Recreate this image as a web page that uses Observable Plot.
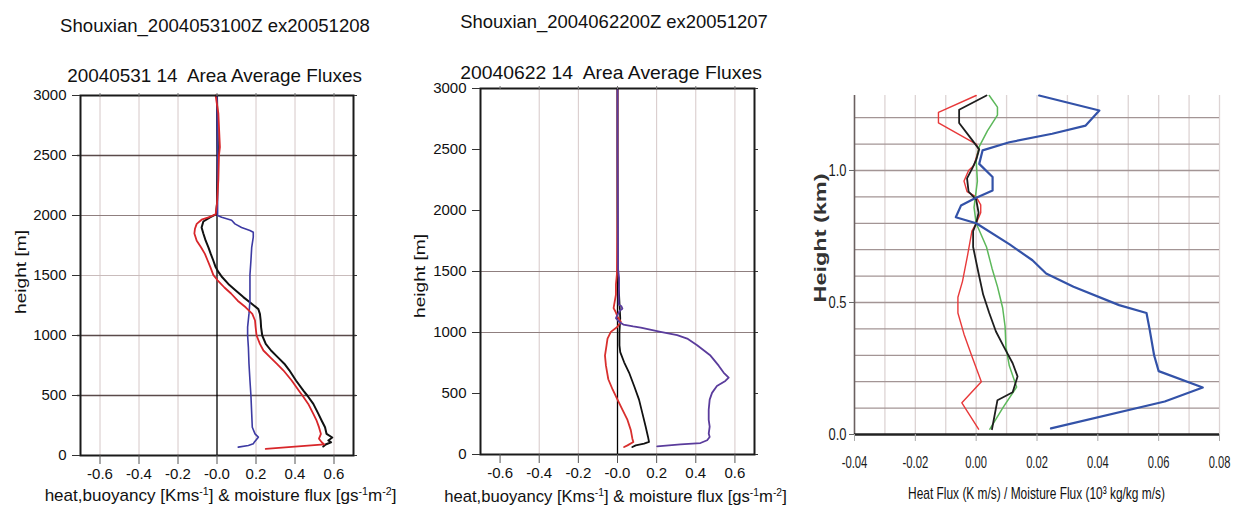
<!DOCTYPE html>
<html>
<head>
<meta charset="utf-8">
<script src="https://cdn.jsdelivr.net/npm/d3@7"></script>
<script src="https://cdn.jsdelivr.net/npm/@observablehq/plot@0.6"></script>
<style>
  html, body { margin: 0; padding: 0; background: #fff; }
  #wrap { position: relative; width: 1233px; height: 506px; overflow: hidden; background: #fff; }
  #wrap svg { position: absolute; top: 0; overflow: visible; }
</style>
</head>
<body>
<div id="wrap"></div>
<script>
// ---------- Panels 1 & 2 shared ticks ----------
const xTicks12 = [-0.6, -0.4, -0.2, 0, 0.2, 0.4, 0.6];
const xTickLabels12 = ["-0.6", "-0.4", "-0.2", "-0.0", "0.2", "0.4", "0.6"];
const yTicks12 = [0, 500, 1000, 1500, 2000, 2500, 3000];

// ---------- Panel 1 (2004-05-31) ----------
const p1HeatH = [3000,2850,2570,2500,2300,2100,2010,1985,1965,1930,1890,1850,1790,1735,1680,1625,1570,1505,1460,1400,1350,1290,1235,1180,1125,1070,1000,930,875,820,765,710,625,540,500,430,347,290,236,180,140,110,92,55];
const p1HeatV = [-0.007,0.007,0.015,0.01,0.007,0.0,-0.007,-0.044,-0.079,-0.104,-0.113,-0.116,-0.104,-0.082,-0.062,-0.048,-0.034,-0.019,0.003,0.038,0.072,0.106,0.147,0.181,0.195,0.198,0.203,0.22,0.238,0.272,0.306,0.34,0.383,0.42,0.438,0.468,0.494,0.511,0.523,0.533,0.523,0.537,0.55,0.25];
const p1BuoyH = [3000,2500,2100,2010,1985,1950,1900,1850,1790,1735,1680,1625,1570,1530,1485,1430,1375,1320,1265,1220,1180,1125,1070,1000,930,875,820,765,710,625,540,500,430,347,290,236,180,150,125,110,92,75];
const p1BuoyV = [0.0,0.005,0.0,-0.005,-0.036,-0.07,-0.079,-0.07,-0.058,-0.044,-0.032,-0.019,-0.007,0.007,0.027,0.058,0.096,0.135,0.178,0.212,0.22,0.224,0.226,0.232,0.25,0.277,0.311,0.345,0.371,0.405,0.443,0.463,0.494,0.52,0.537,0.554,0.562,0.591,0.571,0.585,0.557,0.545];
const p1MoistH = [3000,2500,2000,1985,1960,1930,1900,1875,1860,1820,1735,1625,1505,1400,1290,1180,1070,1000,900,765,625,500,347,236,180,153,111,97,83,70];
const p1MoistV = [0.0,0.003,0.003,0.024,0.075,0.092,0.126,0.169,0.186,0.186,0.178,0.174,0.169,0.169,0.169,0.164,0.157,0.157,0.161,0.164,0.169,0.174,0.178,0.181,0.195,0.212,0.191,0.186,0.161,0.109];

// ---------- Panel 2 (2004-06-22) ----------
const p2HeatH = [3000,2000,1478,1394,1311,1228,1200,1170,1130,1089,1047,1005,950,895,811,728,617,533,450,367,283,200,130,103,75,61];
const p2HeatV = [0.0,0.0,-0.003,-0.008,-0.008,-0.017,-0.02,-0.01,0.0,0.017,0.0,-0.034,-0.051,-0.056,-0.064,-0.059,-0.047,-0.025,0.0,0.025,0.051,0.068,0.076,0.081,0.051,0.034];
const p2BuoyH = [3000,2000,1500,1117,1005,895,839,756,672,561,450,339,228,144,103,89,75,61];
const p2BuoyV = [0.0,0.0,0.002,0.014,0.01,0.01,0.014,0.034,0.059,0.085,0.11,0.127,0.144,0.156,0.161,0.136,0.093,0.076];
const p2MoistH = [3000,2500,2000,1520,1450,1400,1300,1230,1215,1195,1180,1150,1117,1085,1065,1050,1040,1005,978,950,895,811,728,672,630,603,561,505,450,367,283,228,172,144,117,94,83,67];
const p2MoistV = [0.0,0.0,0.002,0.003,0.008,0.008,0.006,0.006,0.02,0.025,0.012,0.002,-0.008,0.01,0.03,0.08,0.119,0.22,0.305,0.356,0.407,0.475,0.517,0.542,0.568,0.551,0.508,0.483,0.471,0.466,0.466,0.471,0.466,0.471,0.458,0.424,0.322,0.203];

// ---------- Panel 3 (km, flux) ----------
const p3Ticks = [-0.04, -0.02, 0, 0.02, 0.04, 0.06, 0.08];
const p3TickLabels = ["-0.04", "-0.02", "0.00", "0.02", "0.04", "0.06", "0.08"];
const p3YTicks = [0, 0.5, 1.0];
const p3YTickLabels = ["0.0", "0.5", "1.0"];
const p3HGrid = [0.1,0.2,0.3,0.4,0.5,0.6,0.7,0.8,0.9,1.0,1.1,1.2];
const p3VGrid = [-0.03,-0.02,-0.01,0,0.01,0.02,0.03,0.04,0.05,0.06,0.07,0.08];
const p3RedH = [0.02,0.12,0.2,0.29,0.38,0.46,0.52,0.58,0.68,0.77,0.80,0.84,0.87,0.90,0.92,0.96,1.0,1.02,1.08,1.10,1.18,1.22,1.284];
const p3RedV = [0.0008,-0.0047,0.0017,-0.0012,-0.004,-0.006,-0.006,-0.0045,-0.0028,-0.0014,0,0.0015,0.0015,0,-0.003,-0.004,-0.0025,-0.0007,0.0008,0,-0.0124,-0.0124,0.0];
const p3BlackH = [0.02,0.13,0.16,0.22,0.27,0.33,0.39,0.46,0.53,0.61,0.71,0.77,0.80,0.84,0.89,0.92,0.97,1.01,1.04,1.08,1.13,1.18,1.23,1.284];
const p3BlackV = [0.0052,0.007,0.012,0.0136,0.012,0.0092,0.0065,0.0043,0.0023,0.0008,-0.001,-0.001,0,0.0008,0,-0.0025,-0.003,-0.0012,0,0.001,-0.0023,-0.0056,-0.0056,0.0034];
const p3GreenH = [0.02,0.10,0.18,0.26,0.33,0.41,0.48,0.56,0.63,0.71,0.80,0.86,0.96,1.04,1.09,1.15,1.21,1.24,1.284];
const p3GreenV = [0.0045,0.0087,0.0133,0.0109,0.0098,0.0095,0.0087,0.007,0.0052,0.0034,0,-0.0007,0.0004,0,0.001,0.0037,0.007,0.007,0.0043];
const p3BlueH = [0.023,0.125,0.178,0.24,0.30,0.40,0.46,0.49,0.56,0.61,0.66,0.72,0.80,0.823,0.867,0.893,0.924,0.975,1.025,1.076,1.107,1.139,1.17,1.227,1.284];
const p3BlueV = [0.0246,0.062,0.0745,0.060,0.0585,0.057,0.056,0.047,0.032,0.023,0.0185,0.011,0.0,-0.0067,-0.005,-0.0007,0.0054,0.0054,0.001,0.0021,0.0109,0.025,0.036,0.0405,0.0207];

const wrap = document.getElementById("wrap");
const FONT = "'Liberation Sans', Arial, Helvetica, sans-serif";
const NARROW = "'Liberation Sans Narrow', 'Arial Narrow', 'Liberation Sans', sans-serif";

function series(V, H, opts) {
  return Plot.line(V, {x: V, y: H, curve: "linear", strokeLinejoin: "round", ...opts});
}

// Text added to a Plot svg; horizontally scaled by transform to a target width
function addText(svg, parts, o) {
  const t = d3.select(svg).append("text")
    .attr("text-anchor", o.anchor || "middle")
    .attr("font-family", o.family || FONT)
    .attr("font-size", o.size)
    .attr("font-weight", o.weight || "normal")
    .attr("fill", o.fill || "#111")
    .attr("x", 0).attr("y", 0)
    .style("white-space", "pre");
  let prevSup = false;
  parts.forEach(([s, sup]) => {
    const sp = t.append("tspan").text(s);
    if (sup) { sp.attr("dy", -6).attr("font-size", Math.round(o.size * 0.62)); }
    else if (prevSup) { sp.attr("dy", 6); }
    prevSup = !!sup;
  });
  let sx = 1;
  if (o.length) {
    const natural = t.node().getComputedTextLength();
    if (natural > 0) sx = o.length / natural;
  }
  t.attr("transform", `translate(${o.x},${o.y})${o.rotate ? " rotate(-90)" : ""} scale(${sx},1)`);
}

// squeeze Plot tick labels horizontally (condensed look) to an estimated width
function condense(svg, selector, perChar) {
  d3.select(svg).selectAll(selector).each(function() {
    const s = this.textContent;
    let w = 0;
    for (const c of s) w += (c === "." ? 0.5 : c === "-" ? 0.65 : 1) * perChar;
    const natural = this.getComputedTextLength();
    if (!(natural > 0)) return;
    const sx = w / natural;
    const el = d3.select(this);
    const tr = el.attr("transform") || "";
    el.attr("transform", `${tr} scale(${sx},1)`);
    const dx = parseFloat(el.attr("dx"));
    if (!isNaN(dx)) el.attr("dx", dx / sx);
  });
}

function fluxPanel(left, mTop, mBottom, mRight, gridX, gridYDark, gridYMid, gridYLight, lines) {
  const svg = Plot.plot({
    width: 400, height: 506,
    marginLeft: 80, marginRight: mRight, marginTop: mTop, marginBottom: mBottom,
    x: {domain: [-0.7, 0.7]},
    y: {domain: [0, 3000]},
    style: {fontFamily: FONT, fontSize: "15px", color: "#111", background: "transparent", overflow: "visible"},
    marks: [
      Plot.ruleX(gridX, {stroke: "#d6c8c8", strokeWidth: 1}),
      Plot.ruleY(gridYLight, {stroke: "#c9bcbc", strokeWidth: 1}),
      Plot.ruleY(gridYMid, {stroke: "#8f7f7f", strokeWidth: 1.2}),
      Plot.ruleY(gridYDark, {stroke: "#5a4a4a", strokeWidth: 1.4, insetLeft: -3, insetRight: -3}),
      Plot.ruleX([0], {stroke: "#000", strokeWidth: 1.3}),
      ...lines,
      Plot.frame({stroke: "#1a1a1a", strokeWidth: 2}),
      Plot.axisY(yTicks12, {anchor: "left", tickSize: 8, tickPadding: 6, label: null, tickFormat: d => String(d), stroke: "#333"}),
      Plot.axisY(yTicks12, {anchor: "right", tickSize: 3, label: null, tickFormat: () => "", stroke: "#333"}),
      Plot.axisX(xTicks12, {anchor: "bottom", tickSize: 9, tickPadding: 4, label: null, tickFormat: (d, i) => xTickLabels12[i], stroke: "#555"}),
      Plot.axisX(xTicks12, {anchor: "top", tickSize: 3, label: null, tickFormat: () => "", stroke: "#777"})
    ]
  });
  svg.style.left = left + "px";
  wrap.appendChild(svg);
  return svg;
}

// Panel 1
const s1 = fluxPanel(0, 95, 51, 47,
  [-0.6, -0.4, -0.2, 0.2, 0.4, 0.6], [2500, 1000, 500], [2000], [1500],
  [
    series(p1BuoyV, p1BuoyH, {stroke: "#111", strokeWidth: 2}),
    series(p1MoistV, p1MoistH, {stroke: "#3d3aa3", strokeWidth: 1.6}),
    series(p1HeatV, p1HeatH, {stroke: "#d8262a", strokeWidth: 1.8})
  ]);
addText(s1, [["Shouxian_2004053100Z ex20051208"]], {x: 215, y: 32, size: 18, length: 310});
addText(s1, [["20040531 14  Area Average Fluxes"]], {x: 214.5, y: 82, size: 18, length: 295});
addText(s1, [["height [m]"]], {x: 26, y: 272, size: 14, rotate: true, length: 84});
addText(s1, [["heat,buoyancy [Kms"], ["-1", true], ["] & moisture flux [gs"], ["-1", true], ["m"], ["-2", true], ["]"]],
  {x: 220.5, y: 501, size: 16, length: 352});

// Panel 2
const s2 = fluxPanel(400, 88, 52, 46,
  [-0.4, -0.2, 0.2, 0.4, 0.6], [], [1500, 1000], [],
  [
    series(p2BuoyV, p2BuoyH, {stroke: "#111", strokeWidth: 1.8}),
    series(p2HeatV, p2HeatH, {stroke: "#d8302e", strokeWidth: 1.8}),
    series(p2MoistV, p2MoistH, {stroke: "#5a3c9c", strokeWidth: 1.8})
  ]);
addText(s2, [["Shouxian_2004062200Z ex20051207"]], {x: 214, y: 28, size: 18, length: 308});
addText(s2, [["20040622 14  Area Average Fluxes"]], {x: 211, y: 79, size: 18, length: 302});
addText(s2, [["height [m]"]], {x: 25, y: 276, size: 14, rotate: true, length: 84});
addText(s2, [["heat,buoyancy [Kms"], ["-1", true], ["] & moisture flux [gs"], ["-1", true], ["m"], ["-2", true], ["]"]],
  {x: 215.5, y: 502, size: 16, length: 343});

// Panel 3
const s3 = Plot.plot({
  width: 443, height: 506,
  marginLeft: 64, marginRight: 14, marginTop: 95, marginBottom: 72,
  x: {domain: [-0.04, 0.08]},
  y: {domain: [0, 1.284]},
  style: {fontFamily: NARROW, fontSize: "16px", color: "#1a1a1a", background: "transparent", overflow: "visible"},
  marks: [
    Plot.ruleX(p3VGrid, {stroke: "#ddd4d4", strokeWidth: 1.3}),
    Plot.ruleY(p3HGrid, {stroke: "#a39595", strokeWidth: 1.3}),
    series(p3RedV, p3RedH, {stroke: "#e8393a", strokeWidth: 1.4}),
    series(p3GreenV, p3GreenH, {stroke: "#5cb85a", strokeWidth: 1.5}),
    series(p3BlackV, p3BlackH, {stroke: "#1e1e1e", strokeWidth: 1.8}),
    series(p3BlueV, p3BlueH, {stroke: "#3352a8", strokeWidth: 2.2}),
    Plot.ruleX([-0.04], {stroke: "#6a6060", strokeWidth: 1.6}),
    Plot.ruleY([0], {stroke: "#222", strokeWidth: 2.6}),
    Plot.axisY(p3YTicks, {anchor: "left", tickSize: 5, tickPadding: 3, label: null, tickFormat: (d, i) => p3YTickLabels[i], stroke: "#666"}),
    Plot.axisX(p3Ticks, {anchor: "bottom", tickSize: 7, tickPadding: 15, label: null, tickFormat: (d, i) => p3TickLabels[i], stroke: "#aaa"})
  ]
});
s3.style.left = "790px";
wrap.appendChild(s3);
condense(s3, "[aria-label='y-axis tick label'] text", 7.2);
condense(s3, "[aria-label='x-axis tick label'] text", 6.2);
addText(s3, [["Height (km)"]], {x: 36, y: 238, size: 17, weight: "bold", rotate: true, length: 129, fill: "#333"});
addText(s3, [["Heat Flux (K m/s) / Moisture Flux (10³ kg/kg m/s)"]],
  {x: 246.5, y: 499, size: 17, family: NARROW, fill: "#111", length: 257});
</script>
</body>
</html>
